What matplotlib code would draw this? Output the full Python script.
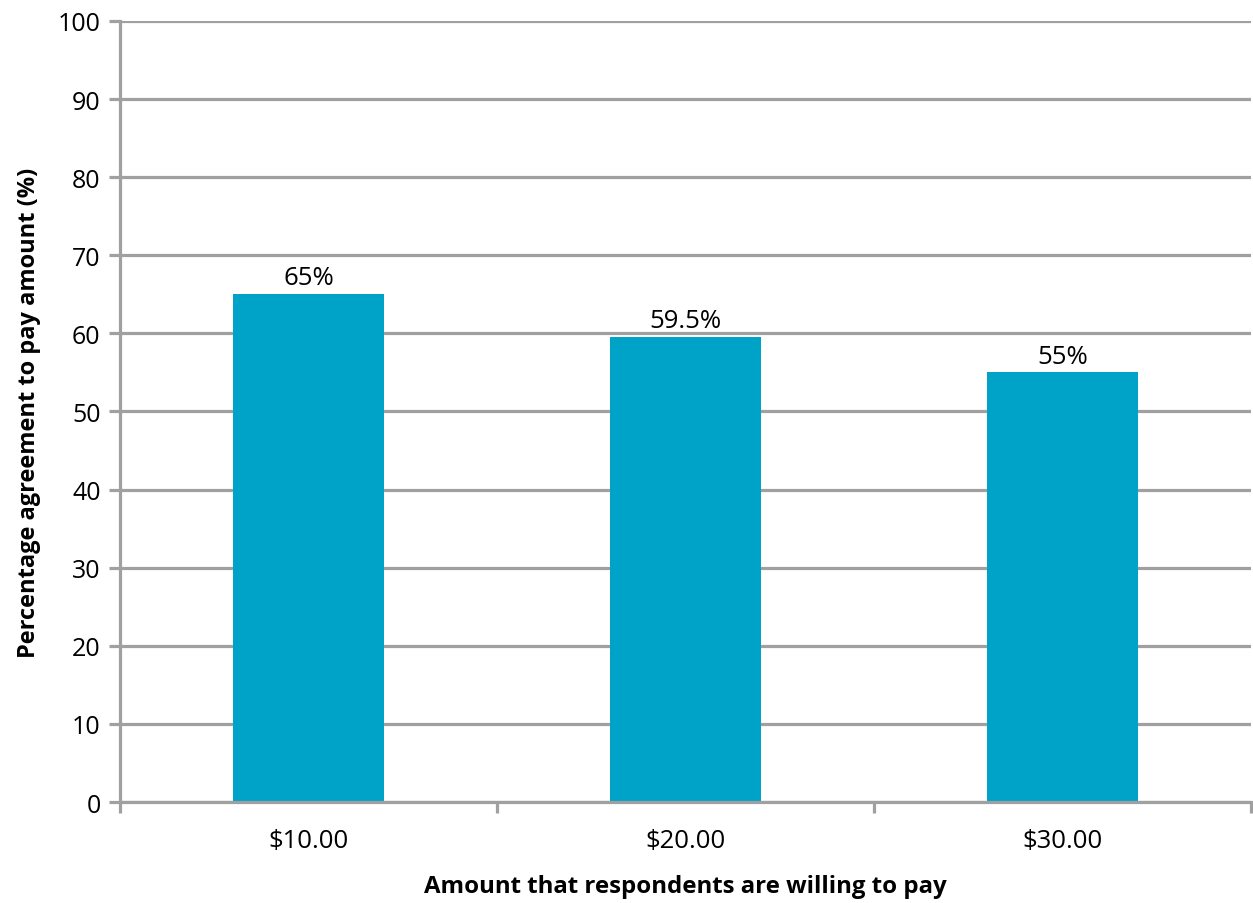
import matplotlib.pyplot as plt
import numpy as np

plt.rcParams['font.family'] = ['Open Sans', 'DejaVu Sans']

amounts = ["$10.00", "$20.00", "$30.00"]
agreement = [65, 59.5, 55]
bar_labels = ["65%", "59.5%", "55%"]

grid_col = "#A0A0A0"
bar_col = "#00A3C8"

fig = plt.figure(figsize=(12.53, 9.04), dpi=100)
ax = fig.add_axes([0.0958, 0.1117, 0.9030, 0.8640])

x = np.arange(len(amounts))
bars = ax.bar(x, agreement, width=0.40, color=bar_col, zorder=3)
for b, lab in zip(bars, bar_labels):
    ax.text(b.get_x() + b.get_width() / 2, b.get_height() + 0.5, lab,
            ha="center", va="bottom", fontsize=18.5)

ax.set_xlim(-0.5, len(amounts) - 0.5)
ax.set_ylim(0, 100)
ax.set_yticks(range(0, 101, 10))
ax.yaxis.grid(True, color=grid_col, linewidth=2.3, zorder=0)

# category boundaries get the tick marks, labels sit at the centers
ax.set_xticks(np.arange(-0.5, len(amounts), 1.0))
ax.set_xticklabels([])
ax.set_xticks(x, minor=True)
ax.set_xticklabels(amounts, minor=True, fontsize=18.5)
ax.tick_params(axis="x", which="major", length=8, width=2.3, color=grid_col)
ax.tick_params(axis="x", which="minor", length=0, pad=19)
ax.tick_params(axis="y", length=8, width=2.3, color=grid_col, labelsize=18, pad=6)

for s in ["top", "right"]:
    ax.spines[s].set_visible(False)
for s in ["left", "bottom"]:
    ax.spines[s].set_color(grid_col)
    ax.spines[s].set_linewidth(2.3)
    ax.spines[s].set_zorder(4)

ax.set_xlabel("Amount that respondents are willing to pay", fontsize=17.3,
              fontweight="bold", labelpad=15)
ax.set_ylabel("Percentage agreement to pay amount (%)", fontsize=17,
              fontweight="bold", labelpad=12)

fig.savefig("out.png", dpi=100)
